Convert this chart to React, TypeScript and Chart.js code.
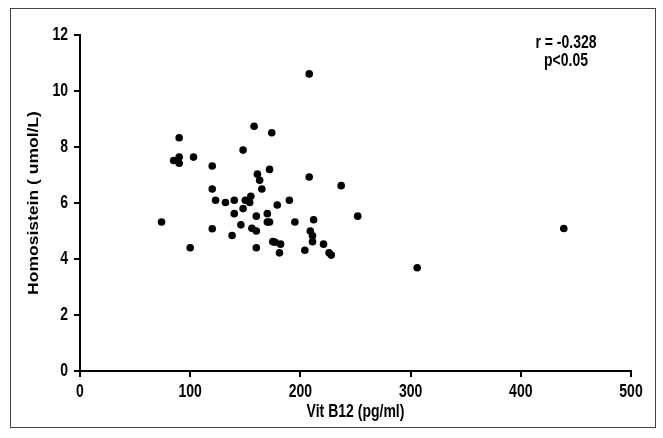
import React, { useEffect, useRef } from "react";
import { Chart, registerables } from "chart.js";

Chart.register(...registerables);

const vitB12: number[] = [
  74, 85, 90, 90, 90, 103, 100, 120, 120, 120, 123, 132, 140, 140, 138, 146, 148, 148, 150, 154,
  155, 156, 158, 160, 160, 160, 161, 163, 165, 170, 170, 172, 172, 174, 175, 177, 179, 181, 182, 190,
  195, 204, 208, 208, 209, 211, 211, 212, 221, 226, 228, 237, 252, 306, 439,
];
const homocysteine: number[] = [
  5.32, 7.52, 7.64, 7.42, 8.33, 7.64, 4.4, 7.32, 6.5, 5.08, 6.1, 6.02, 6.1, 5.62, 4.84, 5.22, 7.89, 5.8, 6.1, 6.02,
  6.24, 5.1, 8.74, 5.53, 5.0, 4.4, 7.03, 6.81, 6.5, 5.62, 5.32, 5.32, 7.2, 8.51, 4.62, 4.6, 5.93, 4.22, 4.53, 6.1,
  5.32, 4.31, 10.61, 6.93, 5.0, 4.83, 4.62, 5.4, 4.53, 4.22, 4.14, 6.62, 5.53, 3.69, 5.09,
];
const xTitle = "Vit B12 (pg/ml)";
const yTitle = "Homosistein ( umol/L)";
const annotationLines = ["r = -0.328", "p<0.05"];

const FONT = "'Liberation Sans', Arial, sans-serif";
const STRETCH = 1.25;

function drawText(ctx: CanvasRenderingContext2D, text: string, x: number, y: number, align: CanvasTextAlign, rotated = false) {
  ctx.save();
  ctx.translate(x, y);
  if (rotated) {
    ctx.rotate(-Math.PI / 2);
    ctx.scale(STRETCH, 1);
  } else {
    ctx.scale(1, STRETCH);
  }
  ctx.textAlign = align;
  ctx.textBaseline = "middle";
  ctx.fillText(text, 0, 0);
  ctx.restore();
}

export default function App() {
  const ref = useRef<HTMLCanvasElement | null>(null);
  useEffect(() => {
    if (!ref.current) return;
    const points = vitB12.map((x, i) => ({ x, y: homocysteine[i] }));
    const framePlugin = {
      id: "frame",
      beforeDraw(chart: any) {
        const ctx = chart.ctx;
        ctx.save();
        ctx.fillStyle = "#fff";
        ctx.fillRect(0, 0, chart.width, chart.height);
        ctx.strokeStyle = "#444";
        ctx.lineWidth = 1;
        ctx.strokeRect(10.5, 8.5, 645, 419);
        ctx.restore();
      },
      afterDraw(chart: any) {
        const ctx = chart.ctx;
        const xs = chart.scales.x;
        const ys = chart.scales.y;
        const area = chart.chartArea;
        ctx.save();
        ctx.fillStyle = "#000";
        ctx.font = `bold 14px ${FONT}`;
        xs.ticks.forEach((t: any) => drawText(ctx, String(t.value), xs.getPixelForValue(t.value), 392, "center"));
        ys.ticks.forEach((t: any) => drawText(ctx, String(t.value), 68, ys.getPixelForValue(t.value), "right"));
        drawText(ctx, xTitle, (area.left + area.right) / 2, 412, "center");
        drawText(ctx, yTitle, 34, (area.top + area.bottom) / 2, "center", true);
        annotationLines.forEach((t, i) => drawText(ctx, t, 566, 43 + i * 18, "center"));
        ctx.restore();
      },
    };
    const chart = new Chart(ref.current, {
      type: "scatter",
      data: {
        datasets: [
          {
            data: points,
            backgroundColor: "#000",
            borderColor: "#000",
            borderWidth: 0,
            pointRadius: 3.8,
          },
        ],
      },
      options: {
        animation: false,
        responsive: false,
        maintainAspectRatio: false,
        layout: { padding: { left: 0, right: 32, top: 35, bottom: 0 } },
        plugins: { legend: { display: false }, tooltip: { enabled: false } },
        scales: {
          x: {
            type: "linear",
            min: 0,
            max: 500,
            afterFit: (s: any) => {
              s.height = 67;
            },
            ticks: { stepSize: 100, display: false },
            grid: { drawOnChartArea: false, drawTicks: true, tickLength: 6, color: "#000", lineWidth: 2 },
            border: { display: true, color: "#000", width: 2 },
            title: { display: false },
          },
          y: {
            type: "linear",
            min: 0,
            max: 12,
            afterFit: (s: any) => {
              s.width = 80;
            },
            ticks: { stepSize: 2, display: false },
            grid: { drawOnChartArea: false, drawTicks: true, tickLength: 6, color: "#000", lineWidth: 2 },
            border: { display: true, color: "#000", width: 2 },
            title: { display: false },
          },
        },
      },
      plugins: [framePlugin],
    });
    return () => chart.destroy();
  }, []);
  return (
    <div style={{ position: "fixed", left: 0, top: 0, width: 663, height: 438 }}>
      <canvas ref={ref} width={663} height={438} style={{ width: 663, height: 438 }} />
    </div>
  );
}
